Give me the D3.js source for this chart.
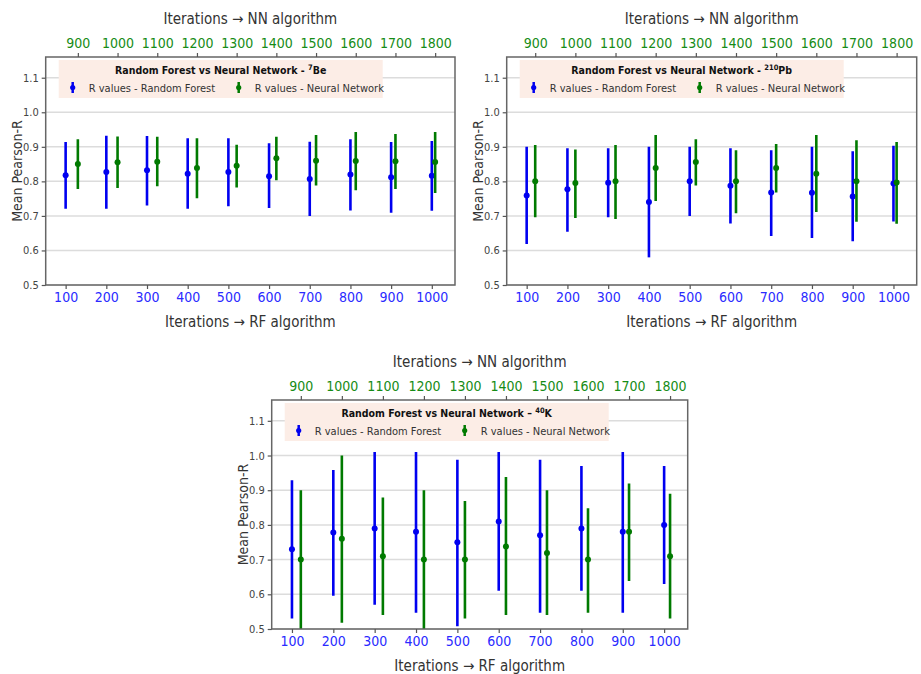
<!DOCTYPE html>
<html>
<head>
<meta charset="utf-8">
<script src="https://cdn.jsdelivr.net/npm/d3@7"></script>
<style>
body { margin: 0; background: #fff; }
text { font-family: "Liberation Sans Narrow", "DejaVu Sans Condensed", "Arial Narrow", sans-serif; }
</style>
</head>
<body>
<svg id="chart" width="921" height="674"></svg>
<script>
/* jshint esversion: 6 */
const rfIterations = [100, 200, 300, 400, 500, 600, 700, 800, 900, 1000];
const nnIterations = [900, 1000, 1100, 1200, 1300, 1400, 1500, 1600, 1700, 1800];
const yTicks = [0.5, 0.6, 0.7, 0.8, 0.9, 1.0, 1.1];

// 7Be
const beRfMean = [0.818, 0.827, 0.832, 0.822, 0.827, 0.815, 0.807, 0.820, 0.812, 0.816];
const beRfLow  = [0.721, 0.721, 0.730, 0.721, 0.728, 0.723, 0.700, 0.716, 0.709, 0.715];
const beRfHigh = [0.914, 0.932, 0.931, 0.925, 0.925, 0.910, 0.915, 0.922, 0.914, 0.917];
const beNnMean = [0.850, 0.855, 0.857, 0.839, 0.845, 0.867, 0.860, 0.859, 0.858, 0.856];
const beNnLow  = [0.778, 0.781, 0.786, 0.751, 0.782, 0.803, 0.788, 0.774, 0.778, 0.766];
const beNnHigh = [0.922, 0.930, 0.929, 0.925, 0.906, 0.929, 0.934, 0.943, 0.937, 0.943];

// 210Pb
const pbRfMean = [0.759, 0.777, 0.796, 0.740, 0.800, 0.787, 0.768, 0.767, 0.756, 0.794];
const pbRfLow  = [0.619, 0.654, 0.696, 0.580, 0.700, 0.678, 0.642, 0.636, 0.627, 0.684];
const pbRfHigh = [0.900, 0.896, 0.896, 0.900, 0.900, 0.896, 0.890, 0.900, 0.887, 0.903];
const pbNnMean = [0.800, 0.795, 0.800, 0.839, 0.856, 0.800, 0.839, 0.822, 0.800, 0.797];
const pbNnLow  = [0.696, 0.694, 0.691, 0.743, 0.788, 0.708, 0.768, 0.711, 0.683, 0.677];
const pbNnHigh = [0.905, 0.892, 0.905, 0.934, 0.922, 0.890, 0.908, 0.934, 0.919, 0.914];

// 40K
const kRfMean = [0.730, 0.778, 0.790, 0.780, 0.750, 0.810, 0.770, 0.790, 0.780, 0.800];
const kRfLow  = [0.530, 0.596, 0.570, 0.547, 0.508, 0.610, 0.547, 0.610, 0.547, 0.630];
const kRfHigh = [0.929, 0.958, 1.010, 1.010, 0.988, 1.010, 0.988, 0.970, 1.010, 0.970];
const kNnMean = [0.700, 0.760, 0.710, 0.700, 0.700, 0.738, 0.719, 0.700, 0.780, 0.710];
const kNnLow  = [0.490, 0.518, 0.540, 0.490, 0.530, 0.540, 0.540, 0.547, 0.638, 0.530];
const kNnHigh = [0.900, 1.000, 0.879, 0.900, 0.869, 0.938, 0.900, 0.848, 0.919, 0.890];

const rfColor = "#0000f0",
			nnColor = "#007a00",
			rfTickColor = "#2a2aff",
			nnTickColor = "#168c16",
			textColor = "#333";

// Panel frames (plot area in page pixels)
const panels = [
	{key: "be", left: 45.7, right: 455, top: 57, bottom: 285, nnDomain: [819, 1850],
		mass: "7", symbol: "Be", dash: "-",
		rf: [beRfMean, beRfLow, beRfHigh], nn: [beNnMean, beNnLow, beNnHigh]},
	{key: "pb", left: 506.7, right: 916.7, top: 57, bottom: 285, nnDomain: [829, 1850],
		mass: "210", symbol: "Pb", dash: "-",
		rf: [pbRfMean, pbRfLow, pbRfHigh], nn: [pbNnMean, pbNnLow, pbNnHigh]},
	{key: "k", left: 271.7, right: 687.7, top: 400, bottom: 629, nnDomain: [829, 1843],
		mass: "40", symbol: "K", dash: "\u2013",
		rf: [kRfMean, kRfLow, kRfHigh], nn: [kNnMean, kNnLow, kNnHigh]}
];

const svg = d3.select("#chart");

panels.forEach(drawPanel);

function drawPanel(p) {
	const w = p.right - p.left,
				h = p.bottom - p.top;

	const x = d3.scaleLinear().domain([51, 1057]).range([0, w]);
	const xTop = d3.scaleLinear().domain(p.nnDomain).range([0, w]);
	const y = d3.scaleLinear().domain([0.5, 1.16]).range([h, 0]);

	const g = svg.append("g")
			.attr("transform", `translate(${p.left},${p.top})`);

	g.append("clipPath")
			.attr("id", "clip-" + p.key)
		.append("rect")
			.attr("width", w)
			.attr("height", h);

	// Horizontal grid
	g.selectAll(".grid")
		.data(yTicks)
		.enter()
		.append("line")
			.attr("x1", 0)
			.attr("x2", w)
			.attr("y1", d => y(d))
			.attr("y2", d => y(d))
			.attr("stroke", "#dcdcdc")
			.attr("stroke-width", 1.5);

	// Legend box
	const lg = g.append("g").attr("transform", "translate(13,3)");
	lg.append("rect")
			.attr("width", 324)
			.attr("height", 38)
			.attr("fill", "#fcede6");

	const title = lg.append("text")
			.attr("x", 162)
			.attr("y", 14)
			.attr("text-anchor", "middle")
			.attr("fill", "#111")
			.style("font-size", "10.5px")
			.style("font-weight", "bold");
	title.append("tspan").text("Random Forest vs Neural Network " + p.dash + " ");
	title.append("tspan")
			.attr("dy", -4)
			.style("font-size", "7.5px")
			.text(p.mass);
	title.append("tspan")
			.attr("dy", 4)
			.text(p.symbol);

	const entries = [
		{label: "R values - Random Forest", color: rfColor, mx: 14},
		{label: "R values - Neural Network", color: nnColor, mx: 180}
	];
	entries.forEach(e => {
		lg.append("line")
				.attr("x1", e.mx).attr("x2", e.mx)
				.attr("y1", 22).attr("y2", 33)
				.attr("stroke", e.color)
				.attr("stroke-width", 2.5);
		lg.append("circle")
				.attr("cx", e.mx).attr("cy", 27.5).attr("r", 2.6)
				.attr("fill", e.color);
		lg.append("text")
				.attr("x", e.mx + 16)
				.attr("y", 31.5)
				.attr("fill", textColor)
				.style("font-size", "11px")
				.text(e.label);
	});

	// Error bars
	const plot = g.append("g").attr("clip-path", `url(#clip-${p.key})`);
	drawSeries(plot, rfIterations, p.rf, x, y, rfColor);
	drawSeries(plot, nnIterations, p.nn, xTop, y, nnColor);

	// Frame
	g.append("rect")
			.attr("width", w)
			.attr("height", h)
			.attr("fill", "none")
			.attr("stroke", "#666")
			.attr("stroke-width", 1.5);

	// Axes
	const bottomAxis = g.append("g")
			.attr("transform", `translate(0,${h})`)
			.call(d3.axisBottom(x).tickValues(rfIterations).tickFormat(d3.format("d"))
				.tickSize(4).tickPadding(3).tickSizeOuter(0));
	styleAxis(bottomAxis, rfTickColor, "14px");

	const topAxis = g.append("g")
			.call(d3.axisTop(xTop).tickValues(nnIterations).tickFormat(d3.format("d"))
				.tickSize(4).tickPadding(5).tickSizeOuter(0));
	styleAxis(topAxis, nnTickColor, "14px");

	const leftAxis = g.append("g")
			.call(d3.axisLeft(y).tickValues(yTicks).tickFormat(d3.format(".1f"))
				.tickSize(4).tickPadding(3).tickSizeOuter(0));
	styleAxis(leftAxis, "#444", "11px");

	// Axis titles
	g.append("text")
			.attr("x", w / 2)
			.attr("y", -33)
			.attr("text-anchor", "middle")
			.attr("fill", textColor)
			.style("font-size", "15px")
			.text("Iterations \u2192 NN algorithm");

	g.append("text")
			.attr("x", w / 2)
			.attr("y", h + 42)
			.attr("text-anchor", "middle")
			.attr("fill", textColor)
			.style("font-size", "15px")
			.text("Iterations \u2192 RF algorithm");

	g.append("text")
			.attr("transform", `translate(-24,${h / 2}) rotate(-90)`)
			.attr("text-anchor", "middle")
			.attr("fill", textColor)
			.style("font-size", "14px")
			.text("Mean Pearson-R");
}

function drawSeries(plot, iters, series, xs, y, color) {
	const [mean, low, high] = series;
	const rows = iters.map((it, i) => ({it: it, mean: mean[i], low: low[i], high: high[i]}));

	plot.selectAll(null)
		.data(rows)
		.enter()
		.append("line")
			.attr("x1", d => xs(d.it))
			.attr("x2", d => xs(d.it))
			.attr("y1", d => y(d.low))
			.attr("y2", d => y(d.high))
			.attr("stroke", color)
			.attr("stroke-width", 2.6);

	plot.selectAll(null)
		.data(rows)
		.enter()
		.append("circle")
			.attr("cx", d => xs(d.it))
			.attr("cy", d => y(d.mean))
			.attr("r", 3)
			.attr("fill", color);
}

function styleAxis(axis, color, size) {
	axis.select(".domain").remove();
	axis.selectAll(".tick line").attr("stroke", "#555").attr("stroke-width", 1.2);
	axis.selectAll(".tick text")
			.attr("fill", color)
			.style("font-size", size);
	axis.attr("font-family", null);
}
</script>
</body>
</html>
